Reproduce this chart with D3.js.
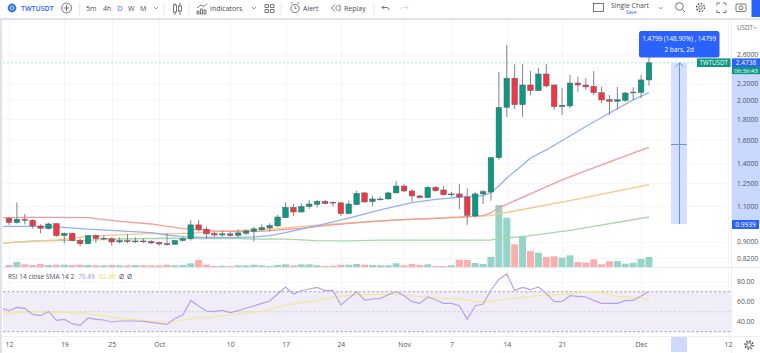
<!DOCTYPE html>
<html>
<head>
<meta charset="utf-8">
<script src="https://cdn.jsdelivr.net/npm/d3@7/dist/d3.min.js"></script>
<style>
  html, body { margin: 0; padding: 0; background: #fff; }
  svg { display: block; font-family: "Open Sans", sans-serif; }
  text { fill: #4a4e5a; }
</style>
</head>
<body>
<svg id="chart" width="760" height="353"></svg>
<script>
// daily candles, day 0 = Sep 12
const opens = [1.027,1.002,1.021,1.015,.983,.968,.996,.931,.943,.905,
  .889,.931,.913,.915,.898,.905,.901,.903,.901,.896,
  .889,.886,.905,.915,.989,.965,.941,.934,.940,.932,
  .943,.954,.961,.972,.983,1.030,1.092,1.064,1.097,1.111,
  1.130,1.124,1.120,1.054,1.109,1.185,1.128,1.143,1.145,1.185,
  1.232,1.198,1.165,1.154,1.223,1.205,1.173,1.178,1.158,1.040,
  1.178,1.191,1.446,1.923,2.267,1.952,2.182,2.113,2.322,2.182,
  1.930,1.938,2.206,2.182,2.166,2.089,2.008,1.990,2.000,2.089,
  2.092,2.245];
const highs = [1.032,1.122,1.052,1.021,.992,1.002,.998,.947,.947,.917,
  .934,.938,.934,.922,.922,.938,.922,.917,.907,.900,
  .943,.908,.925,1.017,1.017,.979,.952,.957,.950,.965,
  .965,.979,.992,.998,1.046,1.124,1.113,1.117,1.139,1.139,
  1.139,1.128,1.128,1.134,1.200,1.191,1.165,1.160,1.191,1.268,
  1.244,1.209,1.170,1.232,1.232,1.232,1.193,1.246,1.216,1.193,
  1.205,1.452,2.348,2.736,2.453,2.461,2.362,2.406,2.457,2.185,
  2.142,2.309,2.287,2.267,2.362,2.161,2.060,2.161,2.100,2.154,
  2.309,2.556];
const lows = [.989,.996,.992,.968,.943,.965,.925,.891,.900,.875,
  .886,.894,.908,.880,.891,.891,.891,.891,.888,.878,
  .880,.884,.900,.905,.952,.912,.925,.925,.925,.922,
  .934,.900,.957,.952,.979,1.027,1.040,1.060,1.082,1.092,
  1.111,1.097,1.040,1.050,1.107,1.122,1.101,1.134,1.143,1.182,
  1.191,1.128,1.149,1.149,1.193,1.167,1.160,1.080,.989,1.030,
  1.113,1.134,1.428,1.821,1.905,1.824,2.058,2.110,2.154,1.895,
  1.842,1.912,2.100,2.122,2.060,1.971,1.842,1.895,1.982,2.005,
  2.024,2.173];
const closes = [1.002,1.021,1.015,.983,.970,.994,.931,.943,.905,.889,
  .931,.915,.917,.898,.905,.900,.903,.901,.893,.888,
  .884,.905,.915,.989,.963,.940,.934,.940,.932,.945,
  .956,.967,.974,.985,1.034,1.092,1.064,1.097,1.113,1.130,
  1.115,1.120,1.054,1.113,1.182,1.126,1.145,1.145,1.185,1.232,
  1.198,1.165,1.154,1.223,1.200,1.173,1.178,1.158,1.044,1.178,
  1.193,1.446,1.923,2.267,1.952,2.182,2.113,2.322,2.170,1.930,
  1.946,2.206,2.182,2.158,2.089,2.005,1.990,2.008,2.085,2.096,
  2.245,2.4738];
const volumes = [6,15,8,6,9,6,7,7,6,7,6,5,5,6,5,5,6,5,5,5,7,5,6,11,21,7,3,4,3,5,5,7,
  5,3,6,8,5,8,8,5,3,4,7,7,9,7,6,5,5,11,5,9,6,8,3,3,5,22,21,12,9,30,186,148,
  68,93,48,43,30,32,28,35,15,13,23,8,17,18,10,13,24,30];

// moving averages, read at the days where they bend
const blueDays = [-1,3,6,10,14,18,20,22,24,28,31,33,35,39,43,47,51,54,58,60,61,62,63,65,66,68,71,73,76,79,81];
const blueVals = [.981,.981,.978,.965,.956,.947,.934,.925,.922,.920,.924,.931,.947,.985,1.027,1.076,1.122,1.143,1.160,1.167,1.187,1.232,1.289,1.388,1.444,1.511,1.635,1.725,1.862,2.005,2.089];
const redDays = [-1,3,10,14,18,22,26,29,32,33,37,41,45,49,53,57,60,61,62,63,70,77,81];
const redVals = [1.030,1.032,1.030,1.009,.994,.968,.956,.952,.953,.957,.970,.989,1.004,1.017,1.023,1.032,1.042,1.058,1.090,1.111,1.275,1.436,1.534];
const orangeDays = [-1,3,6,10,14,18,22,24,28,31,34,39,43,47,51,55,58,61,62,71,81];
const orangeVals = [.891,.901,.908,.927,.936,.941,.943,.947,.956,.961,.968,.987,1.000,1.011,1.021,1.030,1.036,1.042,1.052,1.134,1.242];
const greenDays = [-1,3,6,10,14,20,24,28,31,35,39,43,47,51,55,61,62,65,71,81];
const greenVals = [.891,.903,.905,.907,.913,.917,.915,.917,.913,.912,.905,.903,.907,.907,.907,.907,.917,.925,.959,1.034];

// RSI, first value is day -1
const rsi = [53.7,51,54.3,53.3,47.3,46,50.3,41.3,42.3,38,36.3,43.7,42.3,41.7,39.7,40.7,40.7,40.7,40.3,39.3,38.3,37.3,43.3,46.7,61.3,55.7,50.7,50,51.3,49,51,53.7,55.7,58.3,
  60.7,67.7,74.7,67.7,71,72.7,74.3,71,71.3,56.7,63.3,70,61.7,62.7,63.3,67,70.3,66,60,58.3,64.7,62,58.3,58.3,56,42.3,56,57.7,71.7,82.3,87.7,
  71.3,74.3,72,74.7,68.3,60,60.3,66,65.3,64.7,61.3,58.3,58.3,58.3,61,61.3,65.7,70.49];
const rsiSmaDays = [-1,1,3,5,7,10,12,14,16,18,20,22,24,26,28,30,32,33,35,37,39,41,43,45,47,49,51,53,55,57,59,61,63,65,67,69,71,73,74,75,77,79,81];
const rsiSmaVals = [47.3,49,50,49.3,49.3,48,45.7,43.3,42,40.3,39.7,41.7,43.7,44.7,46.7,48.3,50.7,52.3,56.7,59,61.3,64.3,66.3,67,67.3,67.7,65.7,64.7,63.3,63,60,60,62.7,64.3,66,66.7,68.3,70,70.3,69,65.3,64,62.46];

const priceTicks = [2.6,2.2,2,1.8,1.6,1.4,1.25,1.1,0.9,0.82];
const priceTickLabels = ["2.6000","2.2000","2.0000","1.8000","1.6000","1.4000","1.2500","1.1000","0.9000","0.8200"];
const rsiTicks = [80,60,40];
const timeTicks = [0,7,13,19,28,35,42,50,56,63,70,80,91];
const timeTickLabels = ["12","19","25","Oct","10","17","24","Nov","7","14","21","Dec","12"];

const lastPrice = 2.4738, measureLow = 0.9939;
const chartLeft = 3, chartRight = 731;

const svg = d3.select("#chart");
const x = d3.scaleLinear().domain([0, 91]).range([9, 728]);
const y = d3.scaleLog().domain([0.82, 2.6]).range([258, 54]);
const yVol = d3.scaleLinear().domain([0, 186]).range([267, 205]);
const yRsi = d3.scaleLinear().domain([30, 70]).range([331.7, 291.7]);

svg.append("defs").append("clipPath").attr("id", "plot")
  .append("rect").attr("x", chartLeft).attr("y", 20).attr("width", chartRight - chartLeft).attr("height", 247);
d3.select("defs").append("clipPath").attr("id", "rsiPlot")
  .append("rect").attr("x", chartLeft).attr("y", 268).attr("width", chartRight - chartLeft).attr("height", 68);

//#region grid
const grid = svg.append("g").attr("stroke", "#f4f5f8").attr("stroke-width", 1);
grid.selectAll(".v").data(timeTicks).join("line").attr("class", "v")
  .attr("x1", d => Math.round(x(d)) + .5).attr("x2", d => Math.round(x(d)) + .5).attr("y1", 20).attr("y2", 336);
grid.selectAll(".h").data(priceTicks).join("line").attr("class", "h")
  .attr("x1", chartLeft).attr("x2", chartRight).attr("y1", d => Math.round(y(d)) + .5).attr("y2", d => Math.round(y(d)) + .5);
grid.selectAll(".r").data(rsiTicks).join("line").attr("class", "r")
  .attr("x1", chartLeft).attr("x2", chartRight).attr("y1", d => Math.round(yRsi(d)) + .5).attr("y2", d => Math.round(yRsi(d)) + .5);
//#endregion

// frame bands
svg.append("rect").attr("x", 0).attr("y", 18).attr("width", 760).attr("height", 2).attr("fill", "#e0e3eb");
svg.append("rect").attr("x", 0).attr("y", 18).attr("width", 2).attr("height", 335).attr("fill", "#e0e3eb");
svg.append("line").attr("x1", 2).attr("x2", 760).attr("y1", 267.5).attr("y2", 267.5).attr("stroke", "#e6e8ee");
svg.append("line").attr("x1", 2).attr("x2", 760).attr("y1", 336.5).attr("y2", 336.5).attr("stroke", "#eceef2");
svg.append("line").attr("x1", 731.5).attr("x2", 731.5).attr("y1", 20).attr("y2", 353).attr("stroke", "#eceef2");

const main = svg.append("g").attr("clip-path", "url(#plot)");

// volume
main.append("g").selectAll("rect").data(volumes).join("rect")
  .attr("x", (d, i) => x(i) - 3.5).attr("width", 7)
  .attr("y", d => yVol(d)).attr("height", d => yVol(0) - yVol(d))
  .attr("fill", (d, i) => closes[i] >= opens[i] ? "#96d3c8" : "#fbaeae");

// last price line
main.append("line").attr("x1", chartLeft).attr("x2", 697).attr("y1", y(lastPrice)).attr("y2", y(lastPrice))
  .attr("stroke", "#b4e3da").attr("stroke-width", 1).attr("stroke-dasharray", "2 2");

// measure tool
const measureX = [671, 687];
main.append("rect").attr("x", measureX[0]).attr("width", measureX[1] - measureX[0])
  .attr("y", y(lastPrice)).attr("height", y(measureLow) - y(lastPrice)).attr("fill", "#d4e0ff");
main.append("line").attr("x1", 679.5).attr("x2", 679.5).attr("y1", y(lastPrice)).attr("y2", y(measureLow))
  .attr("stroke", "#6c8ff2").attr("stroke-width", 1);
main.append("path").attr("d", `M675.5 ${y(lastPrice) + 4}L679.5 ${y(lastPrice)}L683.5 ${y(lastPrice) + 4}`)
  .attr("fill", "none").attr("stroke", "#6c8ff2");
main.append("line").attr("x1", 671).attr("x2", 687).attr("y1", 144.5).attr("y2", 144.5).attr("stroke", "#6c8ff2");

// moving averages
const maLine = d3.line().x(d => x(d[0])).y(d => y(d[1]));
const maSeries = [
  [greenDays, greenVals, "#a6d8aa"],
  [orangeDays, orangeVals, "#f9c583"],
  [redDays, redVals, "#f59a9a"],
  [blueDays, blueVals, "#8fb0fa"]
];
maSeries.forEach(s => {
  main.append("path").datum(d3.zip(s[0], s[1])).attr("d", maLine)
    .attr("fill", "none").attr("stroke", s[2]).attr("stroke-width", 1.3);
});

// candles
const candle = main.append("g").selectAll("g").data(opens).join("g");
candle.append("line")
  .attr("x1", (d, i) => x(i)).attr("x2", (d, i) => x(i))
  .attr("y1", (d, i) => y(highs[i])).attr("y2", (d, i) => y(lows[i]))
  .attr("stroke", "#80838c").attr("stroke-width", 1);
candle.append("rect")
  .attr("x", (d, i) => x(i) - 2.8).attr("width", 5.6)
  .attr("y", (d, i) => y(Math.max(opens[i], closes[i])))
  .attr("height", (d, i) => Math.max(Math.abs(y(opens[i]) - y(closes[i])), 0.8))
  .attr("fill", (d, i) => closes[i] >= opens[i] ? "#0b9981" : "#f23645")
  .attr("stroke", "#5d6069").attr("stroke-width", .5);

// RSI pane
const pane = svg.append("g").attr("clip-path", "url(#rsiPlot)");
pane.append("rect").attr("x", chartLeft).attr("width", chartRight - chartLeft)
  .attr("y", yRsi(70)).attr("height", yRsi(30) - yRsi(70)).attr("fill", "#f0edf8");
pane.selectAll(".lvl").data([70, 50, 30]).join("line").attr("class", "lvl")
  .attr("x1", chartLeft).attr("x2", chartRight).attr("y1", d => yRsi(d)).attr("y2", d => yRsi(d))
  .attr("stroke", d => d == 50 ? "#d2d2d8" : "#a8a8b0").attr("stroke-dasharray", "2.5 2");
const rsiLine = d3.line().x(d => x(d[0])).y(d => yRsi(d[1]));
pane.append("path").datum(d3.zip(rsiSmaDays, rsiSmaVals)).attr("d", rsiLine)
  .attr("fill", "none").attr("stroke", "#f5e98f").attr("stroke-width", 1.2);
pane.append("path").datum(rsi.map((v, i) => [i - 1, v])).attr("d", rsiLine)
  .attr("fill", "none").attr("stroke", "#b7a2e0").attr("stroke-width", 1.2);

svg.append("text").attr("x", 8).attr("y", 278.5).attr("font-size", 6.6).attr("fill", "#6a6d78").text("RSI 14 close SMA 14 2");
svg.append("text").attr("x", 78).attr("y", 278.5).attr("font-size", 6.6).style("fill", "#a48fdc").text("70.49");
svg.append("text").attr("x", 99).attr("y", 278.5).attr("font-size", 6.6).style("fill", "#ecdf6e").text("62.46");
svg.append("text").attr("x", 119).attr("y", 278.5).attr("font-size", 6.6).text("Ø");
svg.append("text").attr("x", 127).attr("y", 278.5).attr("font-size", 6.6).text("Ø");

// right axis measure band and axes
svg.append("rect").attr("x", 732).attr("width", 28).attr("y", y(lastPrice)).attr("height", y(measureLow) - y(lastPrice)).attr("fill", "#c9d8fe");

const axisFont = g => {
  g.select(".domain").remove();
  g.selectAll(".tick line").remove();
  g.selectAll(".tick text").attr("font-size", 6.8).attr("font-family", "Open Sans").style("fill", "#50535e");
};
svg.append("g").attr("transform", "translate(737,0)")
  .call(d3.axisRight(y).tickValues(priceTicks).tickSize(0).tickPadding(0).tickFormat((d, i) => priceTickLabels[i]))
  .call(axisFont);
svg.append("g").attr("transform", "translate(737,0)")
  .call(d3.axisRight(yRsi).tickValues(rsiTicks).tickSize(0).tickPadding(0).tickFormat(d3.format(".2f")))
  .call(axisFont);
svg.append("g").attr("transform", "translate(0,342)")
  .call(d3.axisBottom(x).tickValues(timeTicks).tickSize(0).tickPadding(0).tickFormat((d, i) => timeTickLabels[i]))
  .call(axisFont);

// time axis highlight
svg.append("rect").attr("x", measureX[0]).attr("width", measureX[1] - measureX[0]).attr("y", 337).attr("height", 15).attr("fill", "#ccd9fd");

// labels on the right
const tag = (x0, y0, w, h, fill, label, size, tx) => {
  svg.append("rect").attr("x", x0).attr("y", y0).attr("width", w).attr("height", h).attr("fill", fill);
  svg.append("text").attr("x", tx == null ? x0 + w / 2 : tx).attr("y", y0 + h / 2 + size * .36).attr("text-anchor", "middle")
    .attr("font-size", size).style("fill", "#fff").text(label);
};
tag(697, 58.4, 33.5, 8.6, "#0b9981", "TWTUSDT", 6.2);
tag(732, 66.8, 28, 7.4, "#0b9981", "06:36:43", 6);
tag(732, 58.4, 28, 8.6, "#2962ff", "2.4738", 6.6);
tag(732, 220, 27, 9, "#2962ff", "0.9939", 6.6);

svg.append("text").attr("x", 737).attr("y", 29.5).attr("font-size", 6.2).style("fill", "#6a6d78").text("USDT");
svg.append("path").attr("d", "M753.5 27l1.5 1.5l1.5-1.5").attr("fill", "none").attr("stroke", "#6a6d78").attr("stroke-width", .7);

svg.append("rect").attr("x", 639).attr("y", 31).attr("width", 80.5).attr("height", 26.5).attr("rx", 2.5).attr("fill", "#2962ff");
svg.append("text").attr("x", 679.2).attr("y", 41.2).attr("text-anchor", "middle").attr("font-size", 6.4).style("fill", "#fff").text("1.4799 (148.90%) , 14799");
svg.append("text").attr("x", 679.2).attr("y", 51.8).attr("text-anchor", "middle").attr("font-size", 6.4).style("fill", "#fff").text("2 bars, 2d");

// settings gear, bottom right
const iconG = svg.append("g").attr("fill", "none").attr("stroke", "#3a3d47").attr("stroke-width", .8);
iconG.append("circle").attr("cx", 749).attr("cy", 345).attr("r", 2.4);
iconG.append("circle").attr("cx", 749).attr("cy", 345).attr("r", 4).attr("stroke-dasharray", "1.6 1.5").attr("stroke-width", 1.3);

//#region toolbar
const tb = svg.append("g");
const tbText = (tx, label, size, color, weight) => tb.append("text").attr("x", tx).attr("y", 10.5)
  .attr("font-size", size || 7).attr("font-weight", weight || 500).style("fill", color || "#4a4d58").text(label);
const tbSep = sx => tb.append("line").attr("x1", sx).attr("x2", sx).attr("y1", 3).attr("y2", 15).attr("stroke", "#e6e8ee");
const chevron = cx => tb.append("path").attr("d", `M${cx - 2} 7l2 2l2-2`).attr("fill", "none").attr("stroke", "#6a6d78").attr("stroke-width", .7);

tb.append("circle").attr("cx", 12).attr("cy", 8).attr("r", 4.4).attr("fill", "#2f80d0");
tb.append("circle").attr("cx", 12).attr("cy", 8).attr("r", 1.8).attr("fill", "none").attr("stroke", "#cfe3f7").attr("stroke-width", .8);
tbText(21, "TWTUSDT", 7, "#2962ff", 600);
tb.append("circle").attr("cx", 66.5).attr("cy", 8).attr("r", 5).attr("fill", "none").attr("stroke", "#3a3d47").attr("stroke-width", .7);
tb.append("path").attr("d", "M66.5 5v6M63.5 8h6").attr("stroke", "#3a3d47").attr("stroke-width", .7);
tbSep(79.5);
tbText(86, "5m"); tbText(103, "4h"); tbText(117.5, "D", 7, "#2962ff"); tbText(128, "W"); tbText(140, "M");
chevron(156);
tbSep(164);
tb.append("path").attr("d", "M175 3v12M180 3v12").attr("stroke", "#3a3d47").attr("stroke-width", .7);
tb.append("rect").attr("x", 173.5).attr("y", 5).attr("width", 3).attr("height", 7).attr("fill", "#fff").attr("stroke", "#3a3d47").attr("stroke-width", .7);
tb.append("rect").attr("x", 178.5).attr("y", 6).attr("width", 3).attr("height", 5).attr("fill", "#fff").attr("stroke", "#3a3d47").attr("stroke-width", .7);
tbSep(189);
tb.append("path").attr("d", "M197 14v-3h2v3zM200.5 14v-5h2v5zM204 14v-4h2v4zM197 8l4-3l3 1.5l3-3").attr("fill", "none").attr("stroke", "#3a3d47").attr("stroke-width", .7);
tbText(210, "Indicators");
chevron(254);
tb.append("path").attr("d", "M265 4.5h3.5v3h-3.5zM270.5 4.5h3.5v3h-3.5zM265 9.5h3.5v3h-3.5zM270.5 9.5h3.5v3h-3.5z").attr("fill", "none").attr("stroke", "#3a3d47").attr("stroke-width", .7);
tbSep(281);
tb.append("circle").attr("cx", 295).attr("cy", 8.5).attr("r", 4.2).attr("fill", "none").attr("stroke", "#3a3d47").attr("stroke-width", .7);
tb.append("path").attr("d", "M295 6v2.5h1.5M291 3.5l1.5-1M299 3.5l-1.5-1").attr("fill", "none").attr("stroke", "#3a3d47").attr("stroke-width", .7);
tbText(303, "Alert");
tb.append("path").attr("d", "M335 4.5L331.5 8L335 11.5M339 4.5L335.5 8L339 11.5M340 5v6").attr("fill", "none").attr("stroke", "#3a3d47").attr("stroke-width", .7);
tbText(344, "Replay");
tbSep(374);
tb.append("path").attr("d", "M382 7.5h5q2 0 2 2.5M382 7.5l2-2M382 7.5l2 2").attr("fill", "none").attr("stroke", "#3a3d47").attr("stroke-width", .7);
tb.append("path").attr("d", "M408 7.5h-5q-2 0-2 2.5M408 7.5l-2-2M408 7.5l-2 2").attr("fill", "none").attr("stroke", "#c8cad0").attr("stroke-width", .7);
tb.append("rect").attr("x", 593.5).attr("y", 3.5).attr("width", 10).attr("height", 8).attr("fill", "none").attr("stroke", "#3a3d47").attr("stroke-width", .7);
tb.append("text").attr("x", 611).attr("y", 7.5).attr("font-size", 6.8).attr("font-weight", 500).text("Single Chart");
tb.append("text").attr("x", 626).attr("y", 14).attr("font-size", 4.8).style("fill", "#2962ff").text("Save");
chevron(660.5);
tbSep(675);
tb.append("circle").attr("cx", 679.5).attr("cy", 6.5).attr("r", 3.8).attr("fill", "none").attr("stroke", "#3a3d47").attr("stroke-width", .7);
tb.append("path").attr("d", "M682.5 9.5l2.5 2.5").attr("stroke", "#3a3d47").attr("stroke-width", .7);
tb.append("circle").attr("cx", 700.5).attr("cy", 7.5).attr("r", 1.8).attr("fill", "none").attr("stroke", "#3a3d47").attr("stroke-width", .7);
tb.append("circle").attr("cx", 700.5).attr("cy", 7.5).attr("r", 4).attr("fill", "none").attr("stroke", "#3a3d47").attr("stroke-width", 1.2).attr("stroke-dasharray", "1.6 1.5");
tb.append("path").attr("d", "M717 5.5v-2.5h3M723 3h3v2.5M726 10v2.5h-3M720 12.5h-3V10").attr("fill", "none").attr("stroke", "#3a3d47").attr("stroke-width", .7);
tb.append("rect").attr("x", 736).attr("y", 4).attr("width", 10).attr("height", 7.5).attr("rx", 1).attr("fill", "none").attr("stroke", "#3a3d47").attr("stroke-width", .7);
tb.append("circle").attr("cx", 741).attr("cy", 7.8).attr("r", 1.9).attr("fill", "none").attr("stroke", "#3a3d47").attr("stroke-width", .7);
tb.append("rect").attr("x", 751.5).attr("y", 0).attr("width", 8.5).attr("height", 17).attr("fill", "#2962ff");
//#endregion
</script>
</body>
</html>
